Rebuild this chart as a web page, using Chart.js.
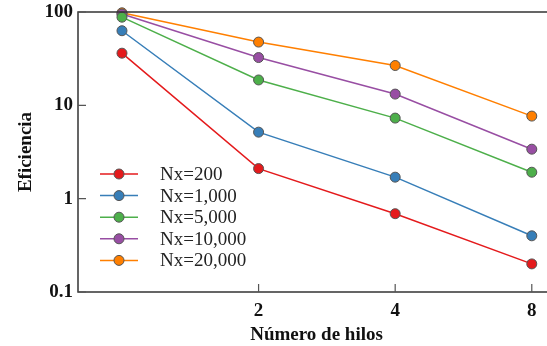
<!DOCTYPE html>
<html>
<head>
<meta charset="utf-8">
<script src="https://cdn.jsdelivr.net/npm/chart.js@4/dist/chart.umd.min.js"></script>
<style>
  html, body { margin: 0; padding: 0; background: #fff; }
  #wrap { width: 547px; height: 346px; overflow: hidden; position: relative; }
  #inner { width: 561px; height: 346px; }
  canvas { display: block; }
</style>
</head>
<body>
<div id="wrap"><div id="inner"><canvas id="c" width="561" height="346" style="width:561px;height:346px"></canvas></div></div>
<script>
// ---- data ----
const threads = [1, 2, 4, 8];
const seriesLabels = ['Nx=200', 'Nx=1,000', 'Nx=5,000', 'Nx=10,000', 'Nx=20,000'];
const nx200   = [36.2, 2.10, 0.69, 0.20];
const nx1000  = [63, 5.16, 1.70, 0.40];
const nx5000  = [88, 18.7, 7.3, 1.92];
const nx10000 = [95, 32.5, 13.2, 3.39];
const nx20000 = [98, 47.6, 26.7, 7.67];
const xTickValues = [2, 4, 8];
const yTickValues = [0.1, 1, 10, 100];
const colors = ['#e41a1c', '#377eb8', '#4daf4a', '#984ea3', '#ff7f00'];
const allSeries = [nx200, nx1000, nx5000, nx10000, nx20000];

const SERIF = "'Liberation Serif', 'Times New Roman', serif";

const datasets = allSeries.map((vals, i) => ({
  label: seriesLabels[i],
  data: threads.map((t, j) => ({ x: t, y: vals[j] })),
  borderColor: colors[i],
  backgroundColor: colors[i],
  pointBackgroundColor: colors[i],
  pointBorderColor: '#555',
  pointBorderWidth: 1,
  pointRadius: 5,
  borderWidth: 1.5,
  tension: 0,
  clip: false
}));

const framePlugin = {
  id: 'frame',
  afterDatasetsDraw(chart) {
    const ctx = chart.ctx;
    const a = chart.chartArea;
    const xs = chart.scales.x, ys = chart.scales.y;
    ctx.save();
    ctx.strokeStyle = '#333';
    ctx.lineWidth = 1.5;
    ctx.beginPath();
    ctx.moveTo(a.left, a.top); ctx.lineTo(a.right, a.top);
    ctx.lineTo(a.right, a.bottom); ctx.lineTo(a.left, a.bottom);
    ctx.closePath();
    ctx.stroke();
    // inward ticks
    ctx.strokeStyle = '#555';
    ctx.lineWidth = 1.2;
    ctx.beginPath();
    xTickValues.forEach(v => {
      const px = xs.getPixelForValue(v);
      ctx.moveTo(px, a.bottom); ctx.lineTo(px, a.bottom - 8);
    });
    yTickValues.forEach(v => {
      const py = ys.getPixelForValue(v);
      ctx.moveTo(a.left, py); ctx.lineTo(a.left + 8, py);
      ctx.moveTo(a.right, py); ctx.lineTo(a.right - 8, py);
    });
    ctx.stroke();
    ctx.restore();
  },
  afterDraw(chart) {
    // legend: line with marker
    const ctx = chart.ctx;
    const a = chart.chartArea;
    ctx.save();
    chart.data.datasets.forEach((ds, i) => {
      const y = 174 + i * 21.6;
      const x0 = a.left + 22, x1 = a.left + 60, xm = (x0 + x1) / 2;
      ctx.strokeStyle = ds.borderColor;
      ctx.lineWidth = 1.5;
      ctx.beginPath(); ctx.moveTo(x0, y); ctx.lineTo(x1, y); ctx.stroke();
      ctx.fillStyle = ds.backgroundColor;
      ctx.strokeStyle = '#555';
      ctx.lineWidth = 1;
      ctx.beginPath(); ctx.arc(xm, y, 5, 0, Math.PI * 2); ctx.fill(); ctx.stroke();
      ctx.fillStyle = '#222';
      ctx.font = '19px ' + SERIF;
      ctx.textAlign = 'left';
      ctx.textBaseline = 'middle';
      ctx.fillText(ds.label, a.left + 82, y + 1);
    });
    ctx.restore();
  }
};

new Chart(document.getElementById('c'), {
  type: 'line',
  data: { datasets },
  options: {
    responsive: false,
    animation: false,
    layout: { padding: { top: 12, right: 2, left: 0, bottom: 0 } },
    plugins: { legend: { display: false }, tooltip: { enabled: false } },
    scales: {
      x: {
        type: 'logarithmic',
        min: 0.8,
        max: 9,
        afterBuildTicks: s => { s.ticks = xTickValues.map(v => ({ value: v })); },
        afterFit: s => { s.height = 54; s.paddingLeft = 0; s.paddingRight = 0; },
        grid: { display: false, drawTicks: false },
        border: { display: false },
        ticks: {
          autoSkip: false, maxRotation: 0, padding: 8, color: '#111',
          font: { family: SERIF, size: 19, weight: 'bold' },
          callback: v => String(v)
        },
        title: {
          display: true, text: 'Número de hilos', color: '#111',
          font: { family: SERIF, size: 19, weight: 'bold' },
          padding: { top: 2, bottom: 0 }
        }
      },
      y: {
        type: 'logarithmic',
        min: 0.1,
        max: 100,
        afterBuildTicks: s => { s.ticks = yTickValues.map(v => ({ value: v })); },
        afterFit: s => { s.width = 78; s.paddingTop = 0; s.paddingBottom = 0; },
        grid: { display: false, drawTicks: false },
        border: { display: false },
        ticks: {
          autoSkip: false, padding: 5, color: '#111',
          font: { family: SERIF, size: 19, weight: 'bold' },
          callback: v => String(v)
        },
        title: {
          display: true, text: 'Eficiencia', color: '#111',
          font: { family: SERIF, size: 19, weight: 'bold' },
          padding: { top: 15, bottom: 0 }
        }
      }
    }
  },
  plugins: [framePlugin]
});
</script>
</body>
</html>
